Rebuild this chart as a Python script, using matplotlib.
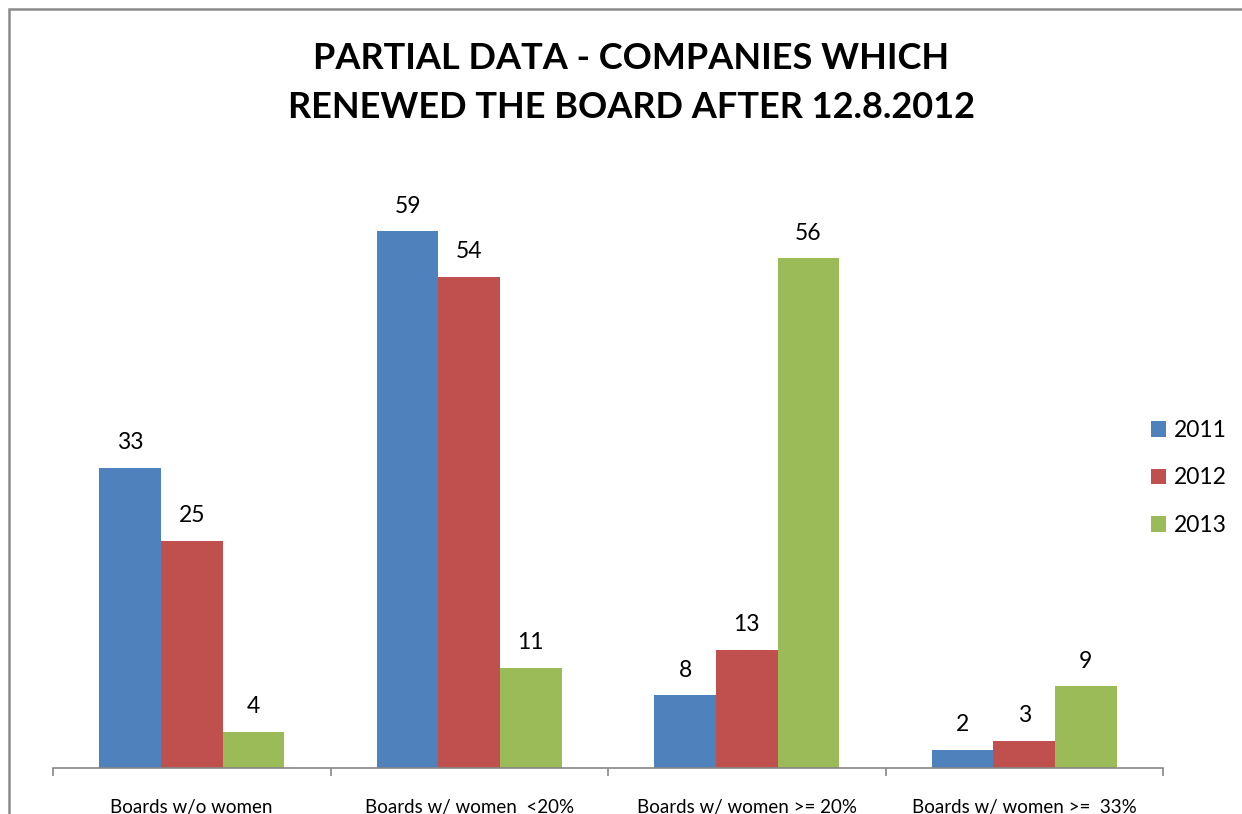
import numpy as np
import matplotlib.pyplot as plt
from matplotlib.patches import Rectangle

categories = ['Boards w/o women', 'Boards w/ women  <20%',
              'Boards w/ women >= 20%', 'Boards w/ women >=  33%']
years = ['2011', '2012', '2013']
v2011 = [33, 59, 8, 2]
v2012 = [25, 54, 13, 3]
v2013 = [4, 11, 56, 9]
colors = ['#4F81BD', '#C0504D', '#9BBB59']

plt.rcParams['font.family'] = ['Lato', 'DejaVu Sans']

fig = plt.figure(figsize=(12.42, 8.14), dpi=100)
W, H = 1242, 814
ax = fig.add_axes([53 / W, 46 / H, 1110 / W, (768 - 131) / H])

x = np.arange(len(categories))
bw = 0.222
for i, (vals, yr) in enumerate(zip([v2011, v2012, v2013], years)):
    pos = x + (i - 1) * bw
    ax.bar(pos, vals, width=bw, color=colors[i], label=yr, edgecolor='none')
    for p, v in zip(pos, vals):
        ax.text(p, v + 1.6, str(v), ha='center', va='bottom', fontsize=16.5)

ax.set_xlim(-0.5, len(categories) - 0.5)
ax.set_ylim(0, 70)
for s in ['left', 'right', 'top']:
    ax.spines[s].set_visible(False)
ax.spines['bottom'].set_color('#868686')
ax.spines['bottom'].set_linewidth(1.2)
ax.set_yticks([])
ax.set_xticks(x)
ax.set_xticklabels(categories, fontsize=13.5)
ax.tick_params(axis='x', which='major', length=0, pad=22)
ax.set_xticks(np.arange(len(categories) + 1) - 0.5, minor=True)
ax.tick_params(axis='x', which='minor', length=6, color='#868686', width=1.2)

handles, labels = ax.get_legend_handles_labels()
fig.legend(handles, labels, loc='center left', bbox_to_anchor=(1146 / W, 1 - 478 / H),
           bbox_transform=fig.transFigure, frameon=False, fontsize=16.5,
           handlelength=0.68, handleheight=0.68, labelspacing=1.15,
           handletextpad=0.35, borderpad=0.2, borderaxespad=0)

fig.text(631 / W, 1 - 83 / H, 'PARTIAL DATA - COMPANIES WHICH\nRENEWED THE BOARD AFTER 12.8.2012',
         ha='center', va='center', fontsize=26, fontweight='bold', linespacing=1.58)

fig.patches.append(Rectangle((9 / W, -0.1), 1.5, 1.1 - 9 / H, transform=fig.transFigure,
                             fill=False, edgecolor='#8A8A8A', linewidth=1.8))

fig.savefig('out.png', dpi=100)
